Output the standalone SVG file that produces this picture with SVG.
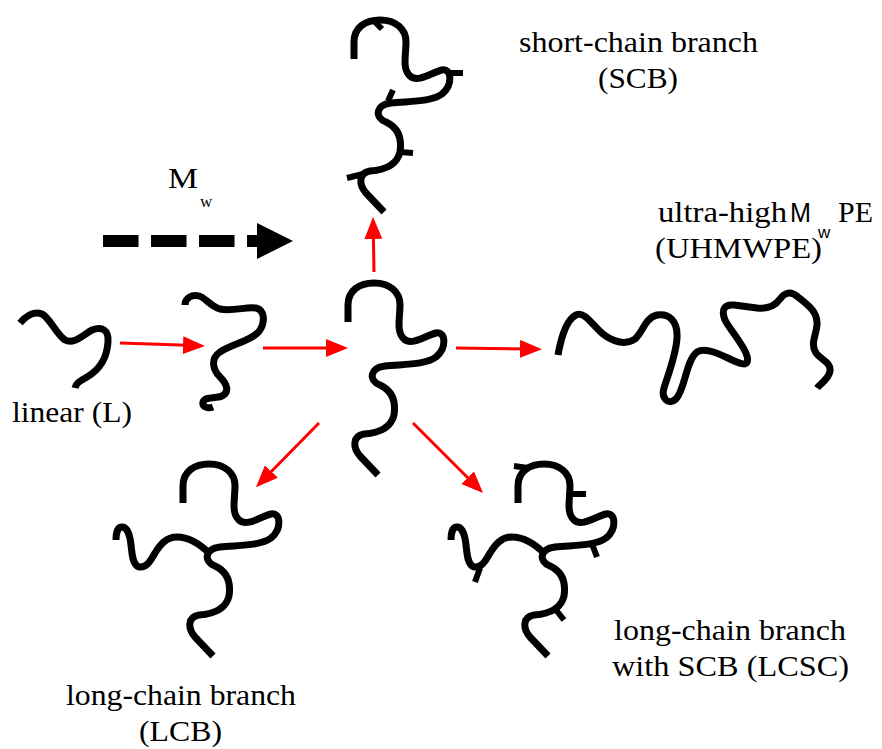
<svg xmlns="http://www.w3.org/2000/svg" xmlns:xlink="http://www.w3.org/1999/xlink" width="882" height="749" viewBox="0 0 882 749">
  <style>
    .chain { fill: none; stroke: #000; stroke-width: 7; stroke-linecap: butt; stroke-linejoin: round; }
    .stub { fill: none; stroke: #000; stroke-width: 6; stroke-linecap: butt; }
    .red { fill: none; stroke: #ff0000; stroke-width: 3; marker-end: url(#redHead); }
  </style>
  <defs>
    <marker id="redHead" markerUnits="userSpaceOnUse" markerWidth="22" markerHeight="18" refX="12" refY="9" orient="auto">
      <path d="M0,0 L22,9 L0,18 z" fill="#ff0000"/>
    </marker>
    <!-- backbone shared by the centre, SCB, LCB and LCSC chains -->
    <path id="backbone" d="M348,322 L348,305 C348,290 360,283 374,283 C390,283 400,292 400,305 C400,318 396,332 404,339 C412,346 425,336 436,333 C446,331 447,348 436,357 C425,365 405,364 385,366 C370,368 368,380 380,385 C393,391 396,402 394,415 C391,428 378,433 364,434 C352,436 353,448 360,456 L378,475"/>
    <!-- long side branch hanging off the backbone (LCB position) -->
    <path id="longBranch" d="M210,554 C200,544 188,537 177,537 C166,537 160,545 155,553 C150,562 146,568 139,567 C132,565 132,552 131,545 C130,535 127,527 122,527 C117,527 116,535 116,540"/>
  </defs>

  <!-- linear chain -->
  <g id="chain-L">
    <path class="chain" d="M20,323 C26,316 34,311 42,314 C50,318 56,334 65,340 C74,345 84,334 92,330 C102,326 109,330 108,342 C107,358 99,370 87,377 C80,381 76,383 75,388"/>
  </g>

  <!-- longer linear chain -->
  <g id="chain-2">
    <path class="chain" d="M185,305 C185,298 192,294 199,296 C206,298 210,306 220,309 C232,312 248,306 256,308 C265,310 265,322 260,330 C254,340 232,344 220,352 C210,359 213,370 220,377 C227,384 230,392 222,396 C215,399 205,396 203,402 C202,407 208,409 213,407"/>
  </g>

  <!-- centre chain -->
  <g id="chain-center">
    <use xlink:href="#backbone" class="chain"/>
  </g>

  <!-- short-chain branched chain -->
  <g id="chain-SCB">
    <use xlink:href="#backbone" class="chain" transform="translate(6,-263)"/>
    <path class="stub" d="M374,21 L382,29 M446,73 L463,73 M388,101 L393,90 M400,152 L413,153 M363,174 L347,178"/>
  </g>

  <!-- ultra-high molecular weight chain -->
  <g id="chain-UHMWPE">
    <path class="chain" d="M558,355 C561,338 566,320 576,315 C585,311 592,325 603,334 C612,341 625,346 635,339 C643,332 645,318 657,315 C668,313 678,320 677,338 C676,355 668,375 664,388 C661,398 668,406 676,399 C685,390 686,360 697,352 C705,347 720,354 730,359 C740,364 750,368 747,356 C744,345 730,330 725,320 C721,310 724,304 734,305 L757,308 C767,309 775,306 780,299 C785,292 791,291 798,297 C808,305 818,312 817,325 C816,336 810,344 816,353 C821,360 831,362 830,371 C829,379 820,384 817,388"/>
  </g>

  <!-- long-chain branched chain -->
  <g id="chain-LCB">
    <use xlink:href="#backbone" class="chain" transform="translate(-165,181)"/>
    <use xlink:href="#longBranch" class="chain"/>
  </g>

  <!-- long-chain branched chain carrying short branches -->
  <g id="chain-LCSC">
    <use xlink:href="#backbone" class="chain" transform="translate(170,181)"/>
    <use xlink:href="#longBranch" class="chain" transform="translate(335,0)"/>
    <path class="stub" d="M528,468 L514,466 M571,494 L586,494 M592,544 L597,557 M480,568 L475,582 M556,610 L564,620"/>
  </g>

  <!-- labels -->
  <g id="labels" font-family="'Liberation Serif', 'Times New Roman', Times, 'DejaVu Serif', serif" font-size="29" fill="#000">
    <text x="12" y="422" textLength="120" lengthAdjust="spacingAndGlyphs">linear (L)</text>
    <text x="519" y="52" textLength="239" lengthAdjust="spacingAndGlyphs">short-chain branch</text>
    <text x="598" y="88" textLength="80" lengthAdjust="spacingAndGlyphs">(SCB)</text>
    <text x="658" y="222" textLength="129" lengthAdjust="spacingAndGlyphs">ultra-high</text>
    <text x="790" y="222" font-family="'Liberation Sans', Arial, 'DejaVu Sans', sans-serif" font-size="28" textLength="21" lengthAdjust="spacingAndGlyphs">M</text>
    <text x="818" y="238" font-family="'Liberation Sans', Arial, 'DejaVu Sans', sans-serif" font-size="17">w</text>
    <text x="838" y="222" textLength="35" lengthAdjust="spacingAndGlyphs">PE</text>
    <text x="655" y="258" textLength="167" lengthAdjust="spacingAndGlyphs">(UHMWPE)</text>
    <text x="66" y="705" textLength="230" lengthAdjust="spacingAndGlyphs">long-chain branch</text>
    <text x="139" y="741" textLength="83" lengthAdjust="spacingAndGlyphs">(LCB)</text>
    <text x="614" y="640" textLength="232" lengthAdjust="spacingAndGlyphs">long-chain branch</text>
    <text x="612" y="676" textLength="237" lengthAdjust="spacingAndGlyphs">with SCB (LCSC)</text>
  </g>

  <!-- molecular weight direction -->
  <g id="mw-arrow">
    <line x1="103" y1="241" x2="257" y2="241" stroke="#000" stroke-width="12" stroke-dasharray="35.5 12.5"/>
    <polygon points="257,223 293,241 257,259" fill="#000"/>
    <text x="168" y="188" font-family="'Liberation Serif', 'Times New Roman', Times, 'DejaVu Serif', serif" font-size="29" textLength="30" lengthAdjust="spacingAndGlyphs">M</text>
    <text x="200" y="207" font-family="'Liberation Serif', 'Times New Roman', Times, 'DejaVu Serif', serif" font-size="17">w</text>
  </g>

  <!-- reaction arrows -->
  <g id="connectors">
    <line class="red" x1="120" y1="343" x2="195" y2="345.6"/>
    <line class="red" x1="263" y1="348" x2="338" y2="348"/>
    <line class="red" x1="456" y1="348" x2="532" y2="349"/>
    <line class="red" x1="374" y1="272" x2="373.2" y2="227"/>
    <line class="red" x1="319" y1="423" x2="263" y2="480"/>
    <line class="red" x1="413" y1="423" x2="476" y2="486"/>
  </g>
</svg>
